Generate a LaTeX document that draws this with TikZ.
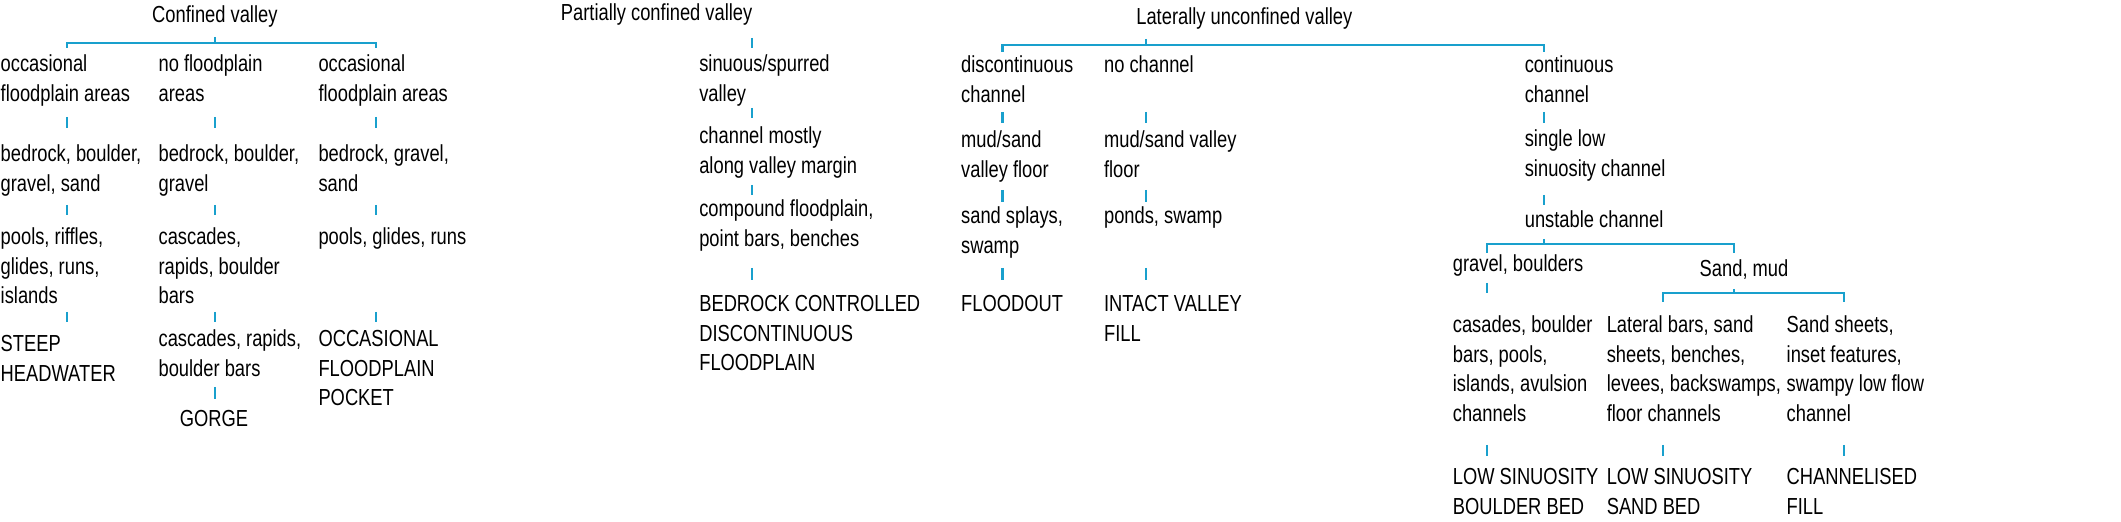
\documentclass[tikz,border=0pt]{standalone}
\usepackage{fontspec}
\setmainfont[FakeStretch=0.79]{Liberation Sans}
\definecolor{ln}{RGB}{25,160,205}
\tikzset{txt/.style={anchor=base west,inner sep=0pt,align=left,font=\fontsize{6.6pt}{8.4pt}\selectfont},
 ttl/.style={anchor=base,inner sep=0pt,font=\fontsize{6.6pt}{8.4pt}\selectfont},
 lnk/.style={draw=ln,line width=0.6pt}}
% x, first baseline y, name, number of lines, text
\newcommand\T[5]{\node[txt] (#3) at ({#1*0.01cm},{-#2*0.01cm-#4*8.4pt+8.4pt}) {#5};}
\newcommand\C[4]{\node[ttl] (#3) at (#1*0.01,-#2*0.01) {#4};}
\newcommand\tk[3]{\draw[lnk] (#1*0.01,-#2*0.01) -- (#1*0.01,-#3*0.01);}
% left right mid y up down
\newcommand\br[6]{\draw[lnk] (#1*0.01,-#6*0.01) |- (#2*0.01,-#4*0.01) -- (#2*0.01,-#6*0.01);
 \draw[lnk] (#3*0.01,-#5*0.01) -- (#3*0.01,-#4*0.01);}
\begin{document}
\begin{tikzpicture}
\useasboundingbox (0,0) rectangle (21.21,-5.21);
% Confined
\C{215}{22}{cv}{Confined valley}
\br{67}{376}{215}{43}{37}{48}
\T{0}{72}{a1}{2}{occasional\\floodplain areas}
\T{158}{72}{b1}{2}{no floodplain\\areas}
\T{318}{72}{c1}{2}{occasional\\floodplain areas}
\tk{67}{117}{128}\tk{215}{117}{128}\tk{376}{117}{128}
\T{0}{162}{a2}{2}{bedrock, boulder,\\gravel, sand}
\T{158}{162}{b2}{2}{bedrock, boulder,\\gravel}
\T{318}{162}{c2}{2}{bedrock, gravel,\\sand}
\tk{67}{205}{215}\tk{215}{205}{215}\tk{376}{205}{215}
\T{0}{245}{a3}{3}{pools, riffles,\\glides, runs,\\islands}
\T{158}{245}{b3}{3}{cascades,\\rapids, boulder\\bars}
\T{318}{245}{c3}{1}{pools, glides, runs}
\tk{67}{312}{322}\tk{215}{312}{322}\tk{376}{312}{322}
\T{0}{352}{a4}{2}{STEEP\\HEADWATER}
\T{158}{347}{b4}{2}{cascades, rapids,\\boulder bars}
\T{318}{347}{c4}{3}{OCCASIONAL\\FLOODPLAIN\\POCKET}
\tk{215}{387}{399}
\C{214}{427}{b5}{GORGE}
% Partially
\C{657}{20}{pv}{Partially confined valley}
\tk{752}{38}{48}
\T{699}{72}{p1}{2}{sinuous/spurred\\valley}
\tk{752}{108}{118}
\T{699}{144}{p2}{2}{channel mostly\\along valley margin}
\tk{752}{185}{195}
\T{699}{217}{p3}{2}{compound floodplain,\\point bars, benches}
\tk{752}{268}{280}
\T{699}{312}{p4}{3}{BEDROCK CONTROLLED\\DISCONTINUOUS\\FLOODPLAIN}
% Laterally
\C{1245}{24}{lv}{Laterally unconfined valley}
\br{1003}{1545}{1147}{45}{39}{52}
\T{961}{73}{d1}{2}{discontinuous\\channel}
\T{1104}{73}{e1}{1}{no channel}
\T{1525}{73}{f1}{2}{continuous\\channel}
\tk{1003}{112}{123}\tk{1147}{112}{123}\tk{1545}{112}{123}
\T{961}{148}{d2}{2}{mud/sand\\valley floor}
\T{1104}{148}{e2}{2}{mud/sand valley\\floor}
\T{1525}{147}{f2}{2}{single low\\sinuosity channel}
\tk{1003}{190}{202}\tk{1147}{190}{202}\tk{1545}{195}{205}
\T{961}{224}{d3}{2}{sand splays,\\swamp}
\T{1104}{224}{e3}{1}{ponds, swamp}
\T{1525}{228}{f3}{1}{unstable channel}
\tk{1003}{268}{280}\tk{1147}{268}{280}
\T{961}{312}{d4}{1}{FLOODOUT}
\T{1104}{312}{e4}{2}{INTACT VALLEY\\FILL}
\br{1488}{1735}{1545}{244}{239}{253}
\T{1453}{272}{g1}{1}{gravel, boulders}
\T{1700}{277}{h1}{1}{Sand, mud}
\tk{1488}{283}{293}
\br{1664}{1845}{1735}{293}{289}{302}
\T{1453}{333}{g2}{4}{casades, boulder\\bars, pools,\\islands, avulsion\\channels}
\T{1607}{333}{h2}{4}{Lateral bars, sand\\sheets, benches,\\levees, backswamps,\\floor channels}
\T{1787}{333}{i2}{4}{Sand sheets,\\inset features,\\swampy low flow\\channel}
\tk{1488}{445}{456}\tk{1664}{445}{456}\tk{1845}{445}{456}
\T{1453}{485}{g3}{2}{LOW SINUOSITY\\BOULDER BED}
\T{1607}{485}{h3}{2}{LOW SINUOSITY\\SAND BED}
\T{1787}{485}{i3}{2}{CHANNELISED\\FILL}
\end{tikzpicture}
\end{document}
